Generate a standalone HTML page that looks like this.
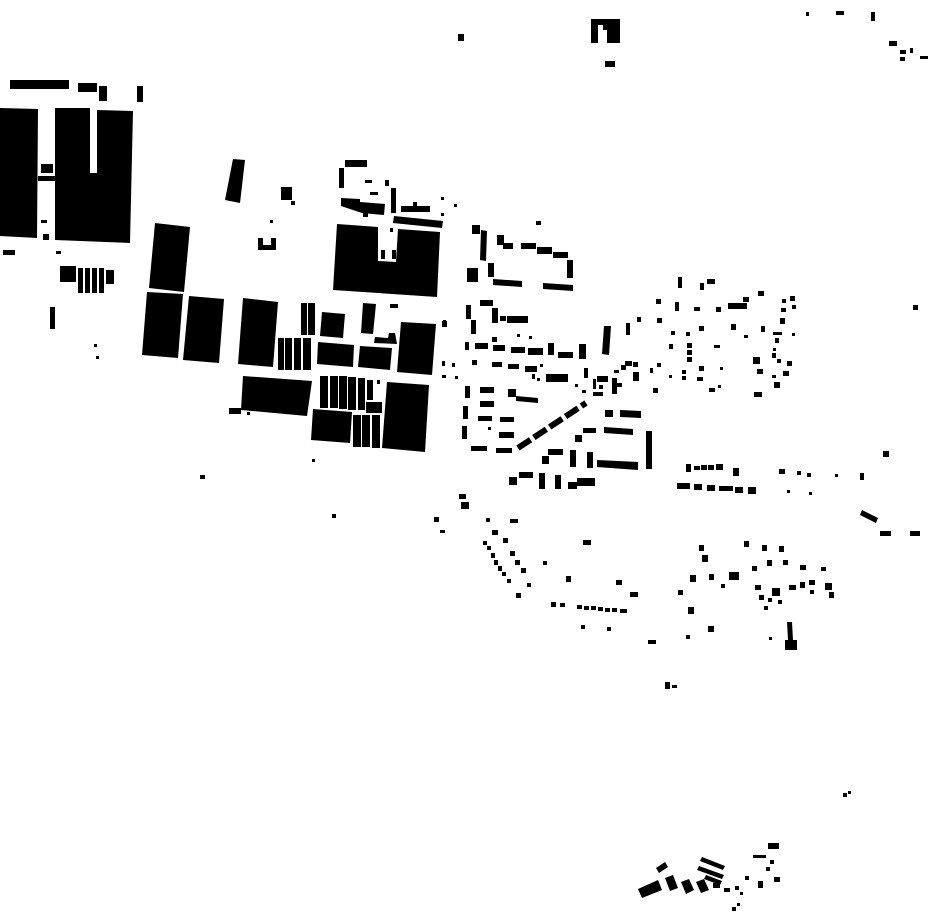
<!DOCTYPE html>
<html><head><meta charset="utf-8"><style>html,body{margin:0;padding:0;background:#fff}svg{display:block}</style></head>
<body>
<svg width="930" height="924" viewBox="0 0 930 924" xmlns="http://www.w3.org/2000/svg">
<g fill="#000">
<!-- top -->
<rect x="458" y="34" width="6" height="7"/>
<path d="M591 19H620V43H607V30H603V25H598V43H591Z"/>
<rect x="605" y="61" width="10" height="6"/>
<rect x="806" y="12" width="3" height="4"/><rect x="836" y="11" width="8" height="4"/><rect x="871" y="12" width="4" height="9"/>
<rect x="889" y="41" width="8" height="5"/><rect x="900" y="50" width="6" height="4"/><rect x="910" y="48" width="3" height="5"/><rect x="920" y="56" width="8" height="3"/><rect x="900" y="57" width="5" height="4"/>
<!-- left -->
<rect x="10" y="80" width="59" height="9"/><rect x="78" y="83" width="19" height="9"/><rect x="99" y="86" width="8" height="15"/><rect x="137" y="86" width="6" height="16"/>
<polygon points="0,108 38,109 37,238 0,236"/>
<polygon points="55,108 90,108 90,173 97,173 97,110 133,111 130,243 55,240"/>
<rect x="41" y="164" width="12" height="9"/><rect x="38" y="176" width="17" height="5"/><rect x="41" y="220" width="6" height="3"/><rect x="43" y="234" width="6" height="6"/>
<rect x="3" y="250" width="12" height="5"/><rect x="56" y="251" width="5" height="3"/>
<rect x="60" y="266" width="16" height="16"/>
<rect x="78" y="268" width="5" height="25"/><rect x="85" y="268" width="5" height="25"/><rect x="92" y="268" width="5" height="25"/><rect x="99" y="268" width="5" height="25"/>
<rect x="106" y="270" width="8" height="14"/><rect x="50" y="307" width="5" height="22"/>
<rect x="94" y="344" width="3" height="3"/><rect x="96" y="356" width="3" height="3"/>
<!-- zoom1 region -->
<polygon points="233,159 245,160 240,203 225,200"/>
<rect x="281" y="187" width="11" height="13"/><rect x="291" y="201" width="4" height="4"/><rect x="270" y="220" width="3" height="3"/>
<path d="M258 238H263V245H271V238H276V250H258Z"/>
<polygon points="155,223 190,227 184,292 149,288"/>
<polygon points="147,292 183,294 178,358 142,355"/>
<polygon points="189,296 224,299 219,363 183,360"/>
<polygon points="243,298 278,302 273,367 238,364"/>
<rect x="301" y="303" width="6" height="32"/><rect x="308" y="303" width="7" height="32"/>
<rect x="278" y="338" width="6" height="32"/><rect x="285" y="338" width="7" height="32"/><rect x="294" y="338" width="7" height="32"/><rect x="303" y="338" width="8" height="32"/>
<polygon points="322,312 345,314 343,338 320,336"/>
<polygon points="318,342 354,345 353,367 317,364"/>
<polygon points="360,346 392,348 390,370 358,367"/>
<polygon points="363,303 376,304 373,334 361,333"/>
<polygon points="375,337 388,338 389,333 395,333 397,344 374,343"/>
<rect x="390" y="304" width="8" height="4"/><rect x="442" y="321" width="5" height="6"/>
<polygon points="401,322 436,324 432,375 397,372"/>
<polygon points="243,376 312,381 307,416 241,410"/>
<rect x="229" y="408" width="12" height="6"/><rect x="247" y="412" width="3" height="3"/>
<rect x="320" y="376" width="8" height="32"/><rect x="330" y="376" width="8" height="32"/><rect x="339" y="376" width="8" height="33"/><rect x="348" y="377" width="8" height="33"/><rect x="358" y="378" width="7" height="32"/><rect x="367" y="380" width="6" height="20"/>
<rect x="366" y="402" width="16" height="11"/><rect x="377" y="380" width="3" height="4"/>
<polygon points="313,409 352,412 350,443 311,440"/>
<rect x="353" y="415" width="8" height="32"/><rect x="362" y="415" width="8" height="32"/><rect x="372" y="415" width="8" height="33"/>
<polygon points="387,382 429,385 425,452 382,448"/>
<rect x="442" y="361" width="3" height="5"/><rect x="442" y="375" width="4" height="3"/><rect x="455" y="376" width="3" height="3"/>
<polygon points="337,224 378,227 378,261 396,262 398,229 440,232 437,297 333,290"/>
<rect x="381" y="250" width="4" height="9"/><rect x="392" y="250" width="4" height="9"/>
<rect x="345" y="160" width="22" height="7"/><rect x="339" y="168" width="5" height="20"/>
<rect x="365" y="180" width="7" height="3"/><rect x="385" y="180" width="4" height="6"/><rect x="370" y="192" width="8" height="3"/>
<rect x="391" y="188" width="5" height="25"/>
<polygon points="341,198 360,199 360,202 385,204 384,215 362,213 341,206"/>
<rect x="363" y="211" width="5" height="6"/>
<rect x="401" y="206" width="29" height="6"/><rect x="413" y="202" width="4" height="4"/>
<polygon points="394,216 443,221 442,228 393,223"/>
<rect x="441" y="197" width="3" height="3"/><rect x="454" y="204" width="3" height="3"/><rect x="441" y="213" width="3" height="3"/><rect x="390" y="228" width="3" height="4"/>
<rect x="536" y="221" width="5" height="4"/>
<!-- zoom2 region -->
<rect x="472" y="225" width="8" height="9"/><polygon points="481,230 487,231 486,261 480,260"/>
<rect x="497" y="235" width="7" height="10"/><rect x="503" y="243" width="10" height="6"/>
<rect x="521" y="243" width="15" height="6"/><rect x="537" y="247" width="15" height="7"/><rect x="553" y="252" width="15" height="6"/><rect x="567" y="260" width="6" height="18"/>
<rect x="467" y="268" width="11" height="14"/><rect x="488" y="263" width="6" height="14"/><polygon points="493,279 522,281 522,287 493,285"/><polygon points="543,283 573,285 573,291 543,289"/>
<rect x="480" y="300" width="13" height="6"/><rect x="466" y="305" width="5" height="14"/><rect x="471" y="320" width="5" height="14"/><rect x="492" y="308" width="6" height="15"/><rect x="500" y="316" width="6" height="5"/><rect x="507" y="316" width="21" height="7"/>
<rect x="443" y="320" width="3" height="6"/><rect x="517" y="334" width="3" height="3"/><rect x="529" y="336" width="3" height="3"/><rect x="492" y="337" width="5" height="5"/>
<rect x="465" y="342" width="4" height="8"/><rect x="475" y="343" width="13" height="6"/><rect x="493" y="345" width="12" height="6"/><rect x="511" y="347" width="14" height="6"/><rect x="528" y="348" width="15" height="7"/><rect x="548" y="343" width="6" height="12"/><rect x="558" y="352" width="15" height="6"/><rect x="579" y="344" width="7" height="15"/>
<polygon points="604,326 611,326 609,355 602,354"/>
<rect x="452" y="363" width="3" height="4"/><rect x="472" y="360" width="5" height="5"/><rect x="492" y="362" width="10" height="5"/><rect x="508" y="364" width="11" height="5"/><rect x="525" y="366" width="12" height="6"/><rect x="540" y="364" width="3" height="3"/>
<rect x="546" y="374" width="22" height="8"/><rect x="584" y="368" width="4" height="10"/><rect x="532" y="374" width="3" height="5"/><rect x="537" y="378" width="3" height="3"/>
<rect x="597" y="376" width="11" height="6"/><rect x="593" y="379" width="3" height="10"/><rect x="612" y="378" width="5" height="16"/><rect x="599" y="385" width="4" height="4"/><rect x="593" y="392" width="10" height="4"/><rect x="582" y="390" width="4" height="3"/><rect x="575" y="384" width="3" height="3"/>
<rect x="614" y="370" width="5" height="3"/><rect x="621" y="365" width="5" height="5"/><rect x="625" y="361" width="7" height="5"/><rect x="633" y="362" width="5" height="5"/><rect x="633" y="372" width="6" height="9"/><rect x="617" y="383" width="5" height="4"/>
<rect x="650" y="368" width="3" height="5"/><rect x="657" y="363" width="4" height="4"/><rect x="653" y="388" width="5" height="5"/>
<rect x="465" y="386" width="5" height="12"/><rect x="480" y="387" width="14" height="6"/><rect x="508" y="389" width="8" height="8"/><polygon points="516,396 538,398 538,403 516,401"/>
<rect x="480" y="401" width="14" height="6"/><rect x="463" y="406" width="5" height="13"/><rect x="478" y="416" width="14" height="5"/><rect x="500" y="417" width="14" height="5"/><rect x="462" y="426" width="5" height="13"/><rect x="488" y="427" width="3" height="3"/><rect x="499" y="432" width="15" height="6"/><rect x="471" y="446" width="16" height="5"/><rect x="496" y="448" width="16" height="5"/>
<line x1="518" y1="448" x2="586" y2="403" stroke="#000" stroke-width="6" stroke-dasharray="15,4"/>
<rect x="605" y="410" width="8" height="7"/><polygon points="620,410 641,411 641,418 620,417"/>
<rect x="583" y="428" width="13" height="5"/><rect x="575" y="435" width="7" height="7"/><polygon points="604,427 633,429 633,435 604,433"/><polygon points="646,431 652,431 652,469 646,469"/>
<rect x="548" y="449" width="15" height="6"/><rect x="542" y="456" width="7" height="8"/><rect x="570" y="450" width="6" height="17"/><rect x="587" y="452" width="6" height="16"/><polygon points="597,460 638,462 638,470 597,467"/>
<rect x="519" y="472" width="14" height="6"/><rect x="509" y="477" width="8" height="8"/><rect x="539" y="473" width="6" height="16"/><rect x="555" y="475" width="6" height="14"/><rect x="568" y="482" width="9" height="7"/><rect x="577" y="478" width="18" height="8"/>
<rect x="459" y="494" width="7" height="5"/><rect x="461" y="502" width="8" height="7"/>
<!-- right scatter -->
<rect x="678" y="277" width="4" height="11"/><rect x="700" y="283" width="4" height="7"/><rect x="707" y="279" width="8" height="5"/>
<rect x="656" y="299" width="5" height="5"/><rect x="675" y="302" width="4" height="9"/><rect x="694" y="307" width="6" height="4"/><rect x="716" y="307" width="5" height="5"/><rect x="728" y="303" width="19" height="6"/><rect x="743" y="297" width="6" height="5"/><rect x="758" y="291" width="6" height="5"/>
<rect x="782" y="299" width="4" height="4"/><rect x="790" y="296" width="5" height="5"/><rect x="792" y="305" width="4" height="4"/><rect x="781" y="308" width="5" height="4"/><rect x="780" y="318" width="5" height="6"/>
<rect x="626" y="323" width="4" height="12"/><rect x="637" y="317" width="4" height="5"/><rect x="657" y="318" width="5" height="5"/><rect x="671" y="331" width="4" height="4"/><rect x="686" y="332" width="4" height="4"/><rect x="699" y="326" width="5" height="5"/><rect x="731" y="324" width="5" height="6"/><rect x="761" y="326" width="4" height="6"/><rect x="773" y="332" width="9" height="3"/><rect x="744" y="335" width="4" height="3"/><rect x="792" y="333" width="3" height="3"/>
<rect x="669" y="344" width="4" height="5"/><rect x="687" y="343" width="5" height="5"/><rect x="687" y="350" width="5" height="5"/><rect x="687" y="357" width="5" height="5"/><rect x="714" y="345" width="6" height="3"/><rect x="775" y="338" width="4" height="5"/><rect x="773" y="348" width="3" height="3"/><rect x="772" y="353" width="4" height="5"/><rect x="777" y="359" width="4" height="4"/><rect x="787" y="361" width="5" height="5"/>
<rect x="753" y="357" width="7" height="7"/><rect x="757" y="369" width="6" height="5"/><rect x="772" y="375" width="4" height="3"/><rect x="783" y="371" width="6" height="5"/><rect x="774" y="382" width="6" height="6"/><rect x="754" y="392" width="8" height="5"/>
<rect x="682" y="370" width="4" height="4"/><rect x="682" y="376" width="4" height="4"/><rect x="699" y="366" width="5" height="5"/><rect x="697" y="377" width="6" height="4"/><rect x="720" y="367" width="3" height="3"/><rect x="709" y="388" width="6" height="4"/><rect x="718" y="385" width="3" height="3"/><rect x="669" y="375" width="3" height="3"/>
<rect x="686" y="464" width="5" height="8"/><rect x="694" y="466" width="6" height="4"/><rect x="701" y="465" width="6" height="5"/><rect x="708" y="465" width="6" height="5"/><rect x="716" y="464" width="7" height="6"/><rect x="733" y="468" width="6" height="8"/>
<rect x="779" y="469" width="6" height="5"/><rect x="797" y="471" width="4" height="4"/><rect x="807" y="473" width="4" height="4"/><rect x="835" y="474" width="3" height="3"/><rect x="860" y="473" width="4" height="7"/>
<rect x="677" y="483" width="13" height="6"/><rect x="694" y="484" width="8" height="6"/><rect x="707" y="485" width="8" height="6"/><rect x="719" y="486" width="14" height="5"/><rect x="735" y="487" width="8" height="6"/><rect x="748" y="487" width="8" height="7"/><rect x="787" y="490" width="3" height="3"/><rect x="809" y="492" width="3" height="3"/>
<rect x="913" y="305" width="5" height="5"/><rect x="883" y="451" width="6" height="6"/>
<polygon points="862,510 878,518 876,523 860,515"/><rect x="880" y="531" width="11" height="5"/><rect x="910" y="531" width="10" height="5"/>
<!-- scattered middle-low -->
<rect x="200" y="475" width="5" height="4"/><rect x="312" y="459" width="3" height="3"/><rect x="332" y="514" width="4" height="4"/>
<rect x="434" y="517" width="5" height="5"/><rect x="440" y="530" width="5" height="3"/>
<rect x="486" y="518" width="4" height="4"/><rect x="510" y="519" width="8" height="4"/><rect x="492" y="530" width="6" height="5"/><rect x="503" y="538" width="5" height="5"/>
<rect x="483" y="541" width="4" height="4"/><rect x="487" y="546" width="4" height="4"/><rect x="491" y="553" width="4" height="5"/><rect x="494" y="560" width="4" height="5"/><rect x="498" y="566" width="4" height="5"/><rect x="502" y="572" width="4" height="4"/><rect x="507" y="579" width="4" height="4"/><rect x="516" y="593" width="5" height="5"/>
<rect x="510" y="551" width="5" height="5"/><rect x="515" y="560" width="5" height="5"/><rect x="521" y="568" width="5" height="5"/><rect x="527" y="583" width="4" height="4"/>
<rect x="543" y="561" width="4" height="4"/><rect x="566" y="576" width="5" height="6"/><rect x="583" y="540" width="8" height="5"/>
<rect x="551" y="602" width="5" height="5"/><rect x="560" y="603" width="5" height="4"/><rect x="577" y="605" width="5" height="4"/><rect x="584" y="606" width="5" height="4"/><rect x="591" y="606" width="5" height="4"/><rect x="598" y="607" width="5" height="4"/><rect x="605" y="608" width="5" height="4"/><rect x="612" y="608" width="5" height="4"/><rect x="620" y="609" width="7" height="4"/>
<rect x="581" y="625" width="4" height="4"/><rect x="607" y="627" width="4" height="4"/><rect x="616" y="580" width="6" height="5"/><rect x="630" y="592" width="8" height="5"/><rect x="648" y="640" width="8" height="4"/>
<rect x="665" y="682" width="5" height="7"/><rect x="672" y="685" width="5" height="3"/>
<rect x="699" y="545" width="5" height="6"/><rect x="702" y="555" width="6" height="7"/><rect x="744" y="541" width="5" height="6"/><rect x="762" y="545" width="5" height="6"/><rect x="779" y="546" width="5" height="6"/><rect x="767" y="560" width="5" height="6"/><rect x="783" y="560" width="5" height="5"/><rect x="752" y="566" width="5" height="5"/>
<rect x="729" y="572" width="10" height="8"/><rect x="709" y="574" width="5" height="6"/><rect x="690" y="575" width="6" height="7"/><rect x="678" y="590" width="5" height="5"/><rect x="721" y="584" width="4" height="4"/>
<rect x="800" y="565" width="6" height="5"/><rect x="821" y="567" width="5" height="4"/><rect x="755" y="585" width="6" height="5"/><rect x="772" y="588" width="8" height="8"/><rect x="789" y="585" width="7" height="5"/><rect x="800" y="582" width="5" height="6"/><rect x="809" y="580" width="6" height="5"/><rect x="825" y="583" width="7" height="7"/><rect x="829" y="592" width="5" height="6"/><rect x="759" y="595" width="5" height="5"/><rect x="768" y="598" width="4" height="4"/><rect x="778" y="600" width="4" height="4"/><rect x="764" y="606" width="4" height="4"/><rect x="810" y="590" width="4" height="4"/>
<rect x="688" y="607" width="6" height="7"/><rect x="708" y="626" width="6" height="6"/><rect x="686" y="635" width="4" height="4"/><rect x="769" y="637" width="3" height="3"/>
<polygon points="787,622 792,622 793,640 788,640"/><rect x="785" y="640" width="12" height="10"/>
<!-- bottom -->
<rect x="843" y="793" width="4" height="4"/><rect x="848" y="791" width="3" height="3"/>
<rect x="768" y="843" width="11" height="6"/><rect x="753" y="855" width="13" height="3"/><rect x="770" y="860" width="4" height="4"/><rect x="766" y="867" width="4" height="4"/><rect x="774" y="877" width="6" height="5"/><rect x="758" y="881" width="5" height="7"/><rect x="745" y="876" width="4" height="4"/><rect x="735" y="886" width="4" height="4"/><rect x="740" y="892" width="3" height="3"/><rect x="732" y="907" width="4" height="4"/><rect x="737" y="903" width="3" height="3"/>
<polygon points="702,857 725,866 723,870 700,861"/><polygon points="699,866 724,875 722,879 697,870"/><polygon points="706,875 722,881 720,885 704,879"/>
<polygon points="656,868 665,862 668,867 659,873"/><polygon points="638,889 658,880 662,890 642,898"/>
<polygon points="665,878 673,875 678,888 670,891"/><polygon points="681,882 689,879 694,890 686,894"/><polygon points="696,882 704,879 709,890 701,893"/>
<rect x="713" y="883" width="7" height="5"/><rect x="724" y="888" width="6" height="4"/>
</g>
</svg>
</body></html>
